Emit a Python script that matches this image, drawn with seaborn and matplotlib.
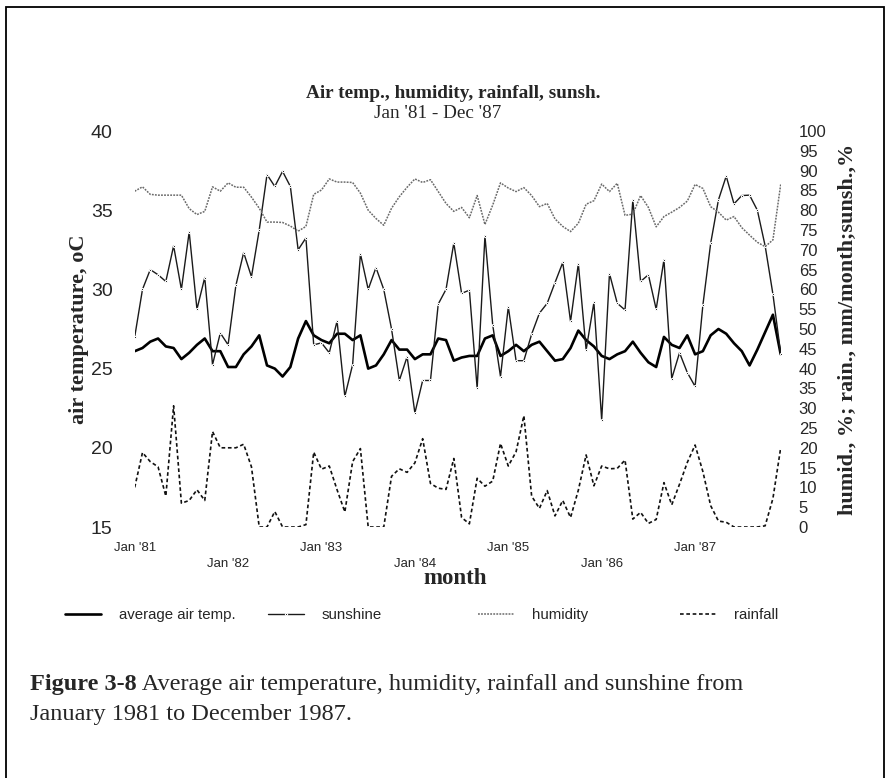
import numpy as np
import pandas as pd
import seaborn as sns
import matplotlib.pyplot as plt
from matplotlib.transforms import ScaledTranslation
from matplotlib.patches import Rectangle

# monthly values, Jan 1981 .. Dec 1987
air_temp = [26.1, 26.3, 26.7, 26.9, 26.4, 26.3, 25.6, 26.0, 26.5, 26.9, 26.1, 26.1,
            25.1, 25.1, 25.9, 26.4, 27.1, 25.2, 25.0, 24.5, 25.1, 26.9, 28.0, 27.1,
            26.8, 26.6, 27.2, 27.2, 26.8, 27.1, 25.0, 25.2, 25.9, 26.8, 26.2, 26.2,
            25.6, 25.9, 25.9, 26.9, 26.8, 25.5, 25.7, 25.8, 25.8, 26.9, 27.1, 25.8,
            26.1, 26.5, 26.1, 26.5, 26.7, 26.1, 25.5, 25.6, 26.3, 27.4, 26.8, 26.4,
            25.8, 25.6, 25.9, 26.1, 26.7, 26.0, 25.4, 25.1, 27.0, 26.5, 26.3, 27.1,
            25.9, 26.1, 27.1, 27.5, 27.2, 26.6, 26.1, 25.2, 26.2, 27.3, 28.4, 25.9]

sunshine = [48, 60, 65, 63.7, 62, 71, 60, 74.5, 55, 63, 41, 49,
            46, 61, 69.3, 63.2, 75, 89, 86, 89.8, 86, 70, 73, 46,
            46.5, 44, 52, 33, 41, 69, 60, 65.5, 60, 50, 37, 43,
            28.8, 37, 37, 56.3, 60, 71.7, 59, 59.8, 35, 73.5, 51, 38,
            55.6, 42, 42, 48.7, 54, 56.5, 61.7, 66.8, 51.9, 66.5, 44.7, 56.7,
            27, 64, 56.5, 54.8, 82.5, 62, 63.7, 55, 67.5, 37.5, 44, 39,
            35.5, 56, 71.6, 82.6, 88.6, 81.6, 83.7, 83.8, 80, 71, 58.8, 43.8]

humidity = [84.8, 85.9, 84, 83.8, 83.8, 83.8, 83.8, 80.4, 78.9, 79.7, 85.9, 84.8,
            86.9, 85.8, 85.8, 83.3, 80.5, 77, 77, 76.9, 76, 74.7, 75.9, 84,
            85.1, 87.9, 87.1, 87.1, 87, 84.3, 80, 77.9, 76.2, 80.5, 83.4, 85.8,
            87.9, 87, 87.7, 84.7, 81.7, 79.7, 80.7, 78.1, 83.7, 76.4, 81.3, 86.9,
            85.6, 84.7, 85.7, 83.7, 80.9, 81.7, 77.8, 75.9, 74.6, 76.7, 81.5, 82.4,
            86.6, 84.7, 86.8, 78.7, 79, 83.7, 80.7, 75.8, 78.4, 79.5, 80.7, 82.3,
            86.5, 85.5, 80.9, 79.5, 77.5, 78.4, 75.6, 73.7, 71.9, 70.8, 72.5, 86.5]

rainfall = [10, 18.8, 16.5, 15.2, 7.8, 30.6, 6, 6.7, 9.4, 6.7, 24.1, 20,
            20, 20, 20.9, 15.2, 0, 0, 3.9, 0, 0, 0, 0.6, 18.9,
            14.6, 15.4, 9.4, 3.8, 16.5, 19.8, 0, 0, 0, 12.8, 14.7, 13.8,
            16.2, 22.3, 11, 9.8, 9.5, 17.3, 2.4, 0.8, 12.3, 10.3, 11.6, 21.1,
            15.4, 19, 28.1, 7.8, 4.7, 9.2, 2.8, 6.7, 2.4, 9.3, 18.2, 10.4,
            15.4, 14.7, 14.8, 16.9, 2, 3.7, 0.9, 1.9, 11.2, 5.6, 10.8, 16.3,
            20.7, 14, 5.4, 1.5, 1.2, 0, 0, 0, 0, 0.3, 7.2, 20]

tick_labels = ["Jan '81", "Jan '82", "Jan '83", "Jan '84", "Jan '85", "Jan '86", "Jan '87"]

months = np.arange(len(air_temp))
df = pd.DataFrame({"month": months, "temp": air_temp, "sun": sunshine,
                   "hum": humidity, "rain": rainfall})

sns.set_theme(style="white")
plt.rcParams["font.family"] = ["Liberation Sans", "DejaVu Sans"]
serif = ["Liberation Serif", "DejaVu Serif"]

W, H = 888, 778
fig = plt.figure(figsize=(W / 100, H / 100), dpi=100)
ax = fig.add_axes([134.7 / W, 1 - 527 / H, 646 / W, 396 / H])
ax2 = ax.twinx()

sns.lineplot(data=df, x="month", y="temp", ax=ax, color="black", lw=1.9,
             label="average air temp.", legend=False)
sns.lineplot(data=df, x="month", y="sun", ax=ax2, color="#1a1a1a", lw=1.0,
             marker="o", markersize=1.6, label="sunshine", legend=False)
sns.lineplot(data=df, x="month", y="hum", ax=ax2, color="#6a6a6a", lw=1.1,
             linestyle=(0, (1.2, 0.8)), label="humidity", legend=False)
sns.lineplot(data=df, x="month", y="rain", ax=ax2, color="#111111", lw=1.2,
             linestyle=(0, (2.2, 1.6)), label="rainfall", legend=False)

ax.set_xlim(0, 83)
ax.set_ylim(15, 40)
ax2.set_ylim(0, 100)
ax.set_yticks(range(15, 41, 5))
ax2.set_yticks(range(0, 101, 5))
ax.set_xticks(months[::12], labels=tick_labels)

for a in (ax, ax2):
    for s in a.spines.values():
        s.set_visible(False)
    a.grid(False)
ax.tick_params(axis="y", length=0, pad=16, labelsize=14)
ax2.tick_params(axis="y", length=0, pad=13, labelsize=12)
ax.tick_params(axis="x", length=0, pad=11, labelsize=9.5)

# staggered month labels
for k, lab in enumerate(ax.get_xticklabels()):
    if k % 2:
        lab.set_transform(lab.get_transform() + ScaledTranslation(0, -0.155, fig.dpi_scale_trans))

ax.set_xlabel("month", family=serif, weight="bold", fontsize=16.5, va="center")
ax.xaxis.set_label_coords((455 - 134.7) / 646, (527 - 579) / 396)
ax.set_ylabel("air temperature, oC", family=serif, weight="bold", fontsize=16,
              va="center", ha="center")
ax.yaxis.set_label_coords((79 - 134.7) / 646, 0.5)
ax2.set_ylabel("humid., %; rain., mm/month;sunsh.,%", family=serif, weight="bold",
               fontsize=16, rotation=90, va="center", ha="center")
ax2.yaxis.set_label_coords((848 - 134.7) / 646, 0.5)

fig.text(453 / W, 1 - 94 / H, "Air temp., humidity, rainfall, sunsh.", family=serif,
         weight="bold", fontsize=13.9, ha="center", va="center")
fig.text(438 / W, 1 - 114 / H, "Jan '81 - Dec '87", family=serif, fontsize=13.8,
         ha="center", va="center")

# legend row: one small legend per entry so they sit at even spacing
handles = ax.get_lines()[:1] + ax2.get_lines()[:3]
names = ["average air temp.", "sunshine", "humidity", "rainfall"]
for h, name, xs in zip(handles, names, [65, 268, 478, 680]):
    fig.legend([h], [name], loc="center left", bbox_to_anchor=(xs / W, 1 - 615 / H),
               frameon=False, fontsize=10.8, handlelength=2.4, handletextpad=1.2,
               borderpad=0, borderaxespad=0)

# caption
cap = fig.text(30 / W, 1 - 690 / H, "Figure 3-8", family=serif, weight="bold",
               fontsize=17.5, va="baseline")
ax.annotate(" Average air temperature, humidity, rainfall and sunshine from",
            xy=(1, 0), xycoords=cap, va="bottom", ha="left", family=serif,
            fontsize=17.5, annotation_clip=False)
fig.text(30 / W, 1 - 720 / H, "January 1981 to December 1987.", family=serif,
         fontsize=17.5, va="baseline")

# page frame
fig.patches.append(Rectangle((6 / W, -0.02), 878 / W, 1.02 - 7 / H, transform=fig.transFigure,
                             fill=False, edgecolor="black", lw=1.3))

fig.savefig("out.png", dpi=100)
